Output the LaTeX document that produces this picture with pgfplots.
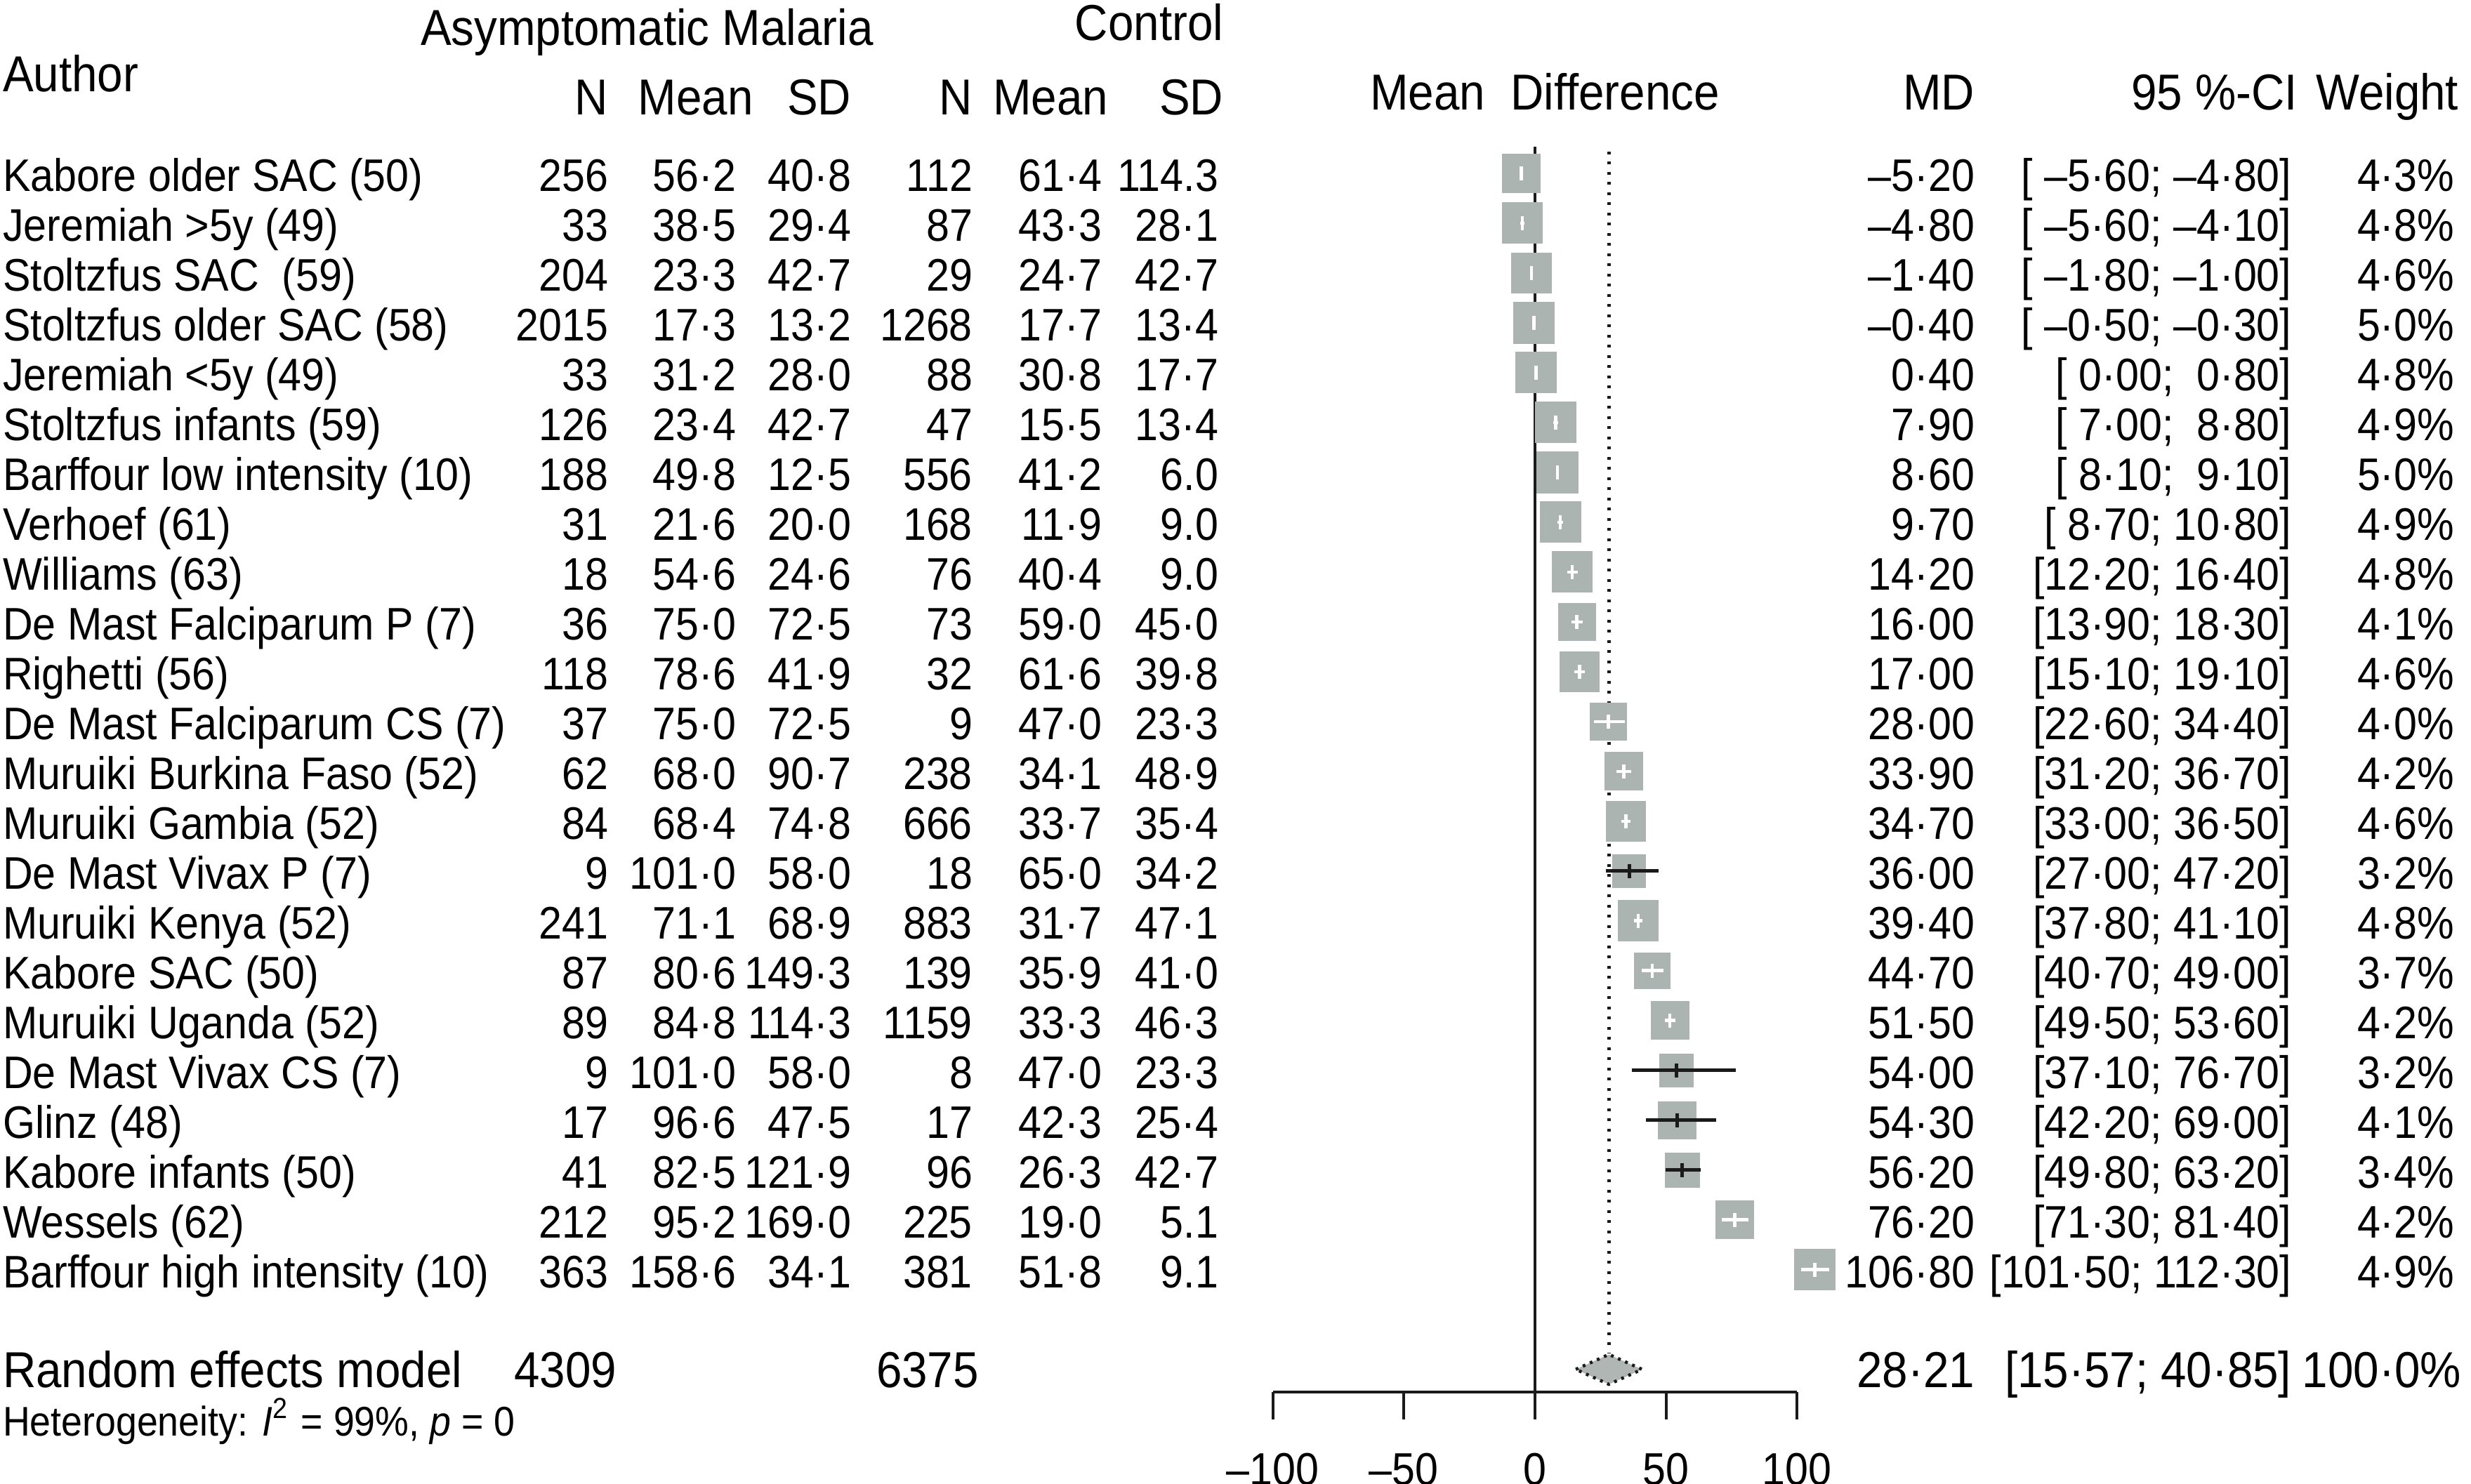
\documentclass[border=0pt]{standalone}
\usepackage{fontspec}
\setmainfont{Liberation Sans}[FakeStretch=0.91]
\usepackage{pgfplots}
\usepackage{pgfplotstable}
\pgfplotsset{compat=1.18}
\definecolor{boxgray}{RGB}{172,180,177}
\definecolor{diagray}{RGB}{176,182,179}
\definecolor{linec}{RGB}{26,26,26}

\newcommand\fr{\fontsize{6.5pt}{7.5pt}\selectfont}
\newcommand\fh{\fontsize{7.2pt}{8pt}\selectfont}
\newcommand\fhet{\fontsize{5.9pt}{7pt}\selectfont}

\tikzset{
 tl/.style={inner sep=0pt, outer sep=0pt, anchor=base west, yshift=-2.6pt, font=\fr},
 tr/.style={inner sep=0pt, outer sep=0pt, anchor=base east, yshift=-2.6pt, font=\fr},
 hl/.style={inner sep=0pt, outer sep=0pt, anchor=base west, font=\fh},
 hr/.style={inner sep=0pt, outer sep=0pt, anchor=base east, font=\fh},
 tc/.style={inner sep=0pt, outer sep=0pt, anchor=base, font=\fr},
}

% column positions in axis (mean difference) units
\def\cAu{-584.5}
\def\cNa{-353.6}
\def\cMa{-304.8}
\def\cSa{-260.9}
\def\cNc{-214.6}
\def\cMc{-165.3}
\def\cSc{-120.8}
\def\cMD{167.7}
\def\cCI{288.6}
\def\cW{350.7}

\newcommand\lrow[8]{%
 \node[tl] at (axis cs:\cAu,#1) {#2};
 \node[tr] at (axis cs:\cNa,#1) {#3};
 \node[tr] at (axis cs:\cMa,#1) {#4};
 \node[tr] at (axis cs:\cSa,#1) {#5};
 \node[tr] at (axis cs:\cNc,#1) {#6};
 \node[tr] at (axis cs:\cMc,#1) {#7};
 \node[tr] at (axis cs:\cSc,#1) {#8};}
\newcommand\rrow[4]{%
 \node[tr] at (axis cs:\cMD,#1) {#2};
 \node[tr] at (axis cs:\cCI,#1) {#3};
 \node[tr] at (axis cs:\cW,#1) {#4};}

% studies whose confidence interval lies inside the box
\pgfplotstableread{
row md lo hi w
1 -5.20 -5.60 -4.80 4.3
2 -4.80 -5.60 -4.10 4.8
3 -1.40 -1.80 -1.00 4.6
4 -0.40 -0.50 -0.30 5.0
5 0.40 0.00 0.80 4.8
6 7.90 7.00 8.80 4.9
7 8.60 8.10 9.10 5.0
8 9.70 8.70 10.80 4.9
9 14.20 12.20 16.40 4.8
10 16.00 13.90 18.30 4.1
11 17.00 15.10 19.10 4.6
12 28.00 22.60 34.40 4.0
13 33.90 31.20 36.70 4.2
14 34.70 33.00 36.50 4.6
16 39.40 37.80 41.10 4.8
17 44.70 40.70 49.00 3.7
18 51.50 49.50 53.60 4.2
22 76.20 71.30 81.40 4.2
23 106.80 101.50 112.30 4.9
}\tabIn
% studies whose confidence interval extends beyond the box
\pgfplotstableread{
row md lo hi w
15 36.00 27.00 47.20 3.2
19 54.00 37.10 76.70 3.2
20 54.30 42.20 69.00 4.1
21 56.20 49.80 63.20 3.4
}\tabOut

\pgfplotsset{
 boxes/.style={only marks, mark=square*, scatter, line width=0.1pt,
   point meta=\thisrow{w},
   scatter/use mapped color={draw=boxgray, fill=boxgray},
   visualization depends on={1.319*sqrt(\thisrow{w})\as\msz},
   scatter/@pre marker code/.append style={/tikz/mark size=\msz}},
}

\begin{document}
\begin{tikzpicture}
\useasboundingbox (0,0) rectangle (351.9pt,211.4pt);
\clip (0,0) rectangle (351.9pt,211.4pt);
\begin{axis}[at={(0,0)}, anchor=south west,
  width=351.9pt, height=211.4pt, scale only axis,
  xmin=-585.6, xmax=357.1, ymin=-2.476, ymax=27.30,
  y dir=reverse, hide axis, clip=false, clip marker paths=true]

% reference lines
\addplot[linec, line width=0.35pt] coordinates {(0,0.47) (0,25.453)};
\addplot[linec, line width=0.45pt, dash pattern=on 0.4pt off 1.05pt] coordinates {(28.21,0.566) (28.21,24.68)};

% boxes
\addplot[boxes] table[x=md, y=row] {\tabIn};
\addplot[boxes] table[x=md, y=row] {\tabOut};

% confidence intervals (drawn above the boxes)
\addplot[white, only marks, mark=|, mark size=1pt, line width=0.45pt,
  error bars/.cd, x dir=both, x explicit, error mark=none,
  error bar style={white, line width=0.45pt}]
  table[x=md, y=row, x error plus expr=\thisrow{hi}-\thisrow{md}, x error minus expr=\thisrow{md}-\thisrow{lo}] {\tabIn};
\addplot[linec, only marks, mark=|, mark size=1pt, line width=0.5pt,
  error bars/.cd, x dir=both, x explicit, error mark=none,
  error bar style={linec, line width=0.5pt}]
  table[x=md, y=row, x error plus expr=\thisrow{hi}-\thisrow{md}, x error minus expr=\thisrow{md}-\thisrow{lo}] {\tabOut};

% random effects diamond
\addplot[fill=diagray, draw=linec, line width=0.45pt, dash pattern=on 0.4pt off 0.7pt]
  coordinates {(15.57,25) (28.21,24.70) (40.85,25) (28.21,25.30) (15.57,25)};

% scale
\addplot[linec, line width=0.4pt] coordinates {(-100,25.453) (100,25.453)};
\foreach \t in {-100,-50,0,50,100}{
  \edef\tmp{\noexpand\draw[linec, line width=0.4pt] (axis cs:\t,25.453) -- (axis cs:\t,26.0);}\tmp
}
\node[tc] at (axis cs:-100,27.32) {–100};
\node[tc] at (axis cs:-50,27.32) {–50};
\node[tc] at (axis cs:0,27.32) {0};
\node[tc] at (axis cs:50,27.32) {50};
\node[tc] at (axis cs:100,27.32) {100};

% headers
\node[hl] at (axis cs:-425.1,-1.561) {Asymptomatic Malaria};
\node[hr] at (axis cs:-118.9,-1.673) {Control};
\node[hl] at (axis cs:\cAu,-0.644) {Author};
\node[hr] at (axis cs:-353.6,-0.18) {N};
\node[hr] at (axis cs:-298.2,-0.18) {Mean};
\node[hr] at (axis cs:-260.9,-0.18) {SD};
\node[hr] at (axis cs:-214.6,-0.18) {N};
\node[hr] at (axis cs:-162.9,-0.18) {Mean};
\node[hr] at (axis cs:-118.9,-0.18) {SD};
\node[tc, font=\fh] at (axis cs:3.75,-0.278) {Mean\ \ Difference};
\node[hr] at (axis cs:\cMD,-0.278) {MD};
\node[hr] at (axis cs:290.9,-0.278) {95 \%-CI};
\node[hr] at (axis cs:352.3,-0.278) {Weight};

% study rows
\lrow{1}{Kabore older SAC (50)}{256}{56·2}{40·8}{112}{61·4}{114.3}
\lrow{2}{Jeremiah >5y (49)}{33}{38·5}{29·4}{87}{43·3}{28·1}
\lrow{3}{Stoltzfus SAC~ (59)}{204}{23·3}{42·7}{29}{24·7}{42·7}
\lrow{4}{Stoltzfus older SAC (58)}{2015}{17·3}{13·2}{1268}{17·7}{13·4}
\lrow{5}{Jeremiah <5y (49)}{33}{31·2}{28·0}{88}{30·8}{17·7}
\lrow{6}{Stoltzfus infants (59)}{126}{23·4}{42·7}{47}{15·5}{13·4}
\lrow{7}{Barffour low intensity (10)}{188}{49·8}{12·5}{556}{41·2}{6.0}
\lrow{8}{Verhoef (61)}{31}{21·6}{20·0}{168}{11·9}{9.0}
\lrow{9}{Williams (63)}{18}{54·6}{24·6}{76}{40·4}{9.0}
\lrow{10}{De Mast Falciparum P (7)}{36}{75·0}{72·5}{73}{59·0}{45·0}
\lrow{11}{Righetti (56)}{118}{78·6}{41·9}{32}{61·6}{39·8}
\lrow{12}{De Mast Falciparum CS (7)}{37}{75·0}{72·5}{9}{47·0}{23·3}
\lrow{13}{Muruiki Burkina Faso (52)}{62}{68·0}{90·7}{238}{34·1}{48·9}
\lrow{14}{Muruiki Gambia (52)}{84}{68·4}{74·8}{666}{33·7}{35·4}
\lrow{15}{De Mast Vivax P (7)}{9}{101·0}{58·0}{18}{65·0}{34·2}
\lrow{16}{Muruiki Kenya (52)}{241}{71·1}{68·9}{883}{31·7}{47·1}
\lrow{17}{Kabore SAC (50)}{87}{80·6}{149·3}{139}{35·9}{41·0}
\lrow{18}{Muruiki Uganda (52)}{89}{84·8}{114·3}{1159}{33·3}{46·3}
\lrow{19}{De Mast Vivax CS (7)}{9}{101·0}{58·0}{8}{47·0}{23·3}
\lrow{20}{Glinz (48)}{17}{96·6}{47·5}{17}{42·3}{25·4}
\lrow{21}{Kabore infants (50)}{41}{82·5}{121·9}{96}{26·3}{42·7}
\lrow{22}{Wessels (62)}{212}{95·2}{169·0}{225}{19·0}{5.1}
\lrow{23}{Barffour high intensity (10)}{363}{158·6}{34·1}{381}{51·8}{9.1}

\rrow{1}{–5·20}{[ –5·60; –4·80]}{4·3\%}
\rrow{2}{–4·80}{[ –5·60; –4·10]}{4·8\%}
\rrow{3}{–1·40}{[ –1·80; –1·00]}{4·6\%}
\rrow{4}{–0·40}{[ –0·50; –0·30]}{5·0\%}
\rrow{5}{0·40}{[ 0·00;~ 0·80]}{4·8\%}
\rrow{6}{7·90}{[ 7·00;~ 8·80]}{4·9\%}
\rrow{7}{8·60}{[ 8·10;~ 9·10]}{5·0\%}
\rrow{8}{9·70}{[ 8·70; 10·80]}{4·9\%}
\rrow{9}{14·20}{[12·20; 16·40]}{4·8\%}
\rrow{10}{16·00}{[13·90; 18·30]}{4·1\%}
\rrow{11}{17·00}{[15·10; 19·10]}{4·6\%}
\rrow{12}{28·00}{[22·60; 34·40]}{4·0\%}
\rrow{13}{33·90}{[31·20; 36·70]}{4·2\%}
\rrow{14}{34·70}{[33·00; 36·50]}{4·6\%}
\rrow{15}{36·00}{[27·00; 47·20]}{3·2\%}
\rrow{16}{39·40}{[37·80; 41·10]}{4·8\%}
\rrow{17}{44·70}{[40·70; 49·00]}{3·7\%}
\rrow{18}{51·50}{[49·50; 53·60]}{4·2\%}
\rrow{19}{54·00}{[37·10; 76·70]}{3·2\%}
\rrow{20}{54·30}{[42·20; 69·00]}{4·1\%}
\rrow{21}{56·20}{[49·80; 63·20]}{3·4\%}
\rrow{22}{76·20}{[71·30; 81·40]}{4·2\%}
\rrow{23}{106·80}{[101·50; 112·30]}{4·9\%}

% summary
\node[tl, font=\fh] at (axis cs:\cAu,25) {Random effects model};
\node[tr, font=\fh] at (axis cs:-350.4,25) {4309};
\node[tr, font=\fh] at (axis cs:-212.2,25) {6375};
\node[tr, font=\fh] at (axis cs:\cMD,25) {28·21};
\node[tr, font=\fh] at (axis cs:\cCI,25) {[15·57; 40·85]};
\node[tr, font=\fh] at (axis cs:353.3,25) {100·0\%};
\node[inner sep=0pt, outer sep=0pt, anchor=base west, font=\fhet] at (axis cs:\cAu,26.34) {Heterogeneity: \textit{I}\textsuperscript{2} = 99\%, \textit{p} = 0};

\end{axis}
\end{tikzpicture}
\end{document}
